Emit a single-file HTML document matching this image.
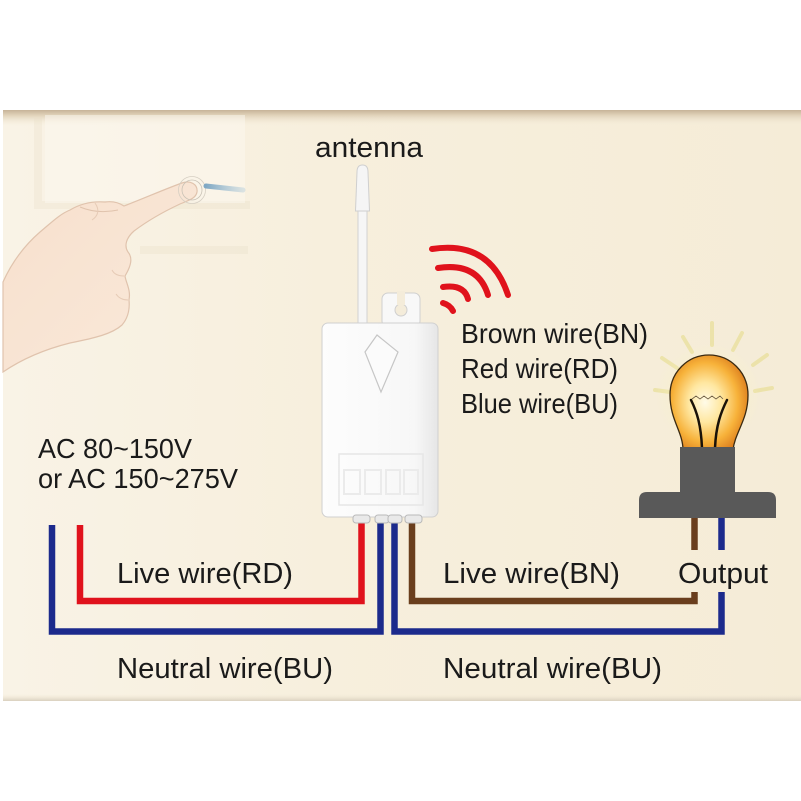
<!DOCTYPE html>
<html><head><meta charset="utf-8"><style>
html,body{margin:0;padding:0;background:#fff;}
svg{display:block;}
text{font-family:"Liberation Sans",Arial,sans-serif;fill:#1a1a1a;}
</style></head><body>
<svg width="801" height="801" viewBox="0 0 801 801" xmlns="http://www.w3.org/2000/svg">
<defs>
<linearGradient id="bg" x1="0" y1="0" x2="1" y2="0">
<stop offset="0" stop-color="#f9f3e6"/><stop offset="0.4" stop-color="#f7efdd"/><stop offset="1" stop-color="#f5ecd7"/>
</linearGradient>
<linearGradient id="topsh" x1="0" y1="0" x2="0" y2="1">
<stop offset="0" stop-color="#c6b398"/><stop offset="0.35" stop-color="#e2d4bc"/><stop offset="1" stop-color="#f6eedb" stop-opacity="0"/>
</linearGradient>
<linearGradient id="botsh" x1="0" y1="0" x2="0" y2="1">
<stop offset="0" stop-color="#f3ead5" stop-opacity="0"/><stop offset="1" stop-color="#d9d0bf"/>
</linearGradient>
<radialGradient id="bulb" cx="0.45" cy="0.5" r="0.6">
<stop offset="0" stop-color="#fffbe8"/><stop offset="0.35" stop-color="#ffe7a0"/><stop offset="0.7" stop-color="#f7b23a"/><stop offset="1" stop-color="#d9771a"/>
</radialGradient>
<radialGradient id="glow" cx="0.5" cy="0.5" r="0.5">
<stop offset="0" stop-color="#fff6c0" stop-opacity="0.8"/><stop offset="1" stop-color="#fff6c0" stop-opacity="0"/>
</radialGradient>
<linearGradient id="box" x1="0" y1="0" x2="1" y2="0">
<stop offset="0" stop-color="#fdfdfd"/><stop offset="0.8" stop-color="#f7f7f7"/><stop offset="1" stop-color="#e6e6e6"/>
</linearGradient>
<linearGradient id="hand" x1="0" y1="0" x2="1" y2="1">
<stop offset="0" stop-color="#f7e0cd"/><stop offset="1" stop-color="#fae9da"/>
</linearGradient>
<linearGradient id="streak" x1="0" y1="0" x2="1" y2="0">
<stop offset="0" stop-color="#7fa8c4"/><stop offset="1" stop-color="#a9c6d8" stop-opacity="0.4"/>
</linearGradient>
</defs>

<!-- panel -->
<rect x="3" y="110" width="798" height="591" fill="url(#bg)"/>
<rect x="3" y="110" width="798" height="16" fill="url(#topsh)"/>
<rect x="3" y="694" width="798" height="7" fill="url(#botsh)"/>

<!-- faint wall switch frame -->
<g opacity="0.3" fill="none" stroke="#e8dec6" stroke-width="8">
<path d="M38,118 V205 H250"/>
<path d="M140,250 H248"/>
</g>
<rect x="45" y="115" width="200" height="88" fill="#fbf8f0" opacity="0.5"/>

<!-- hand -->
<path d="M3,282 C12,262 25,245 40,232 C52,222 60,214 70,210 C80,204 92,201 105,202 C112,201 118,202 124,206 C145,198 165,189 182,183 C190,180 198,184 197,192 C196,198 190,200 180,204 C165,211 150,219 134,231 C126,238 124,246 128,252 C133,258 131,266 125,276 C126,283 131,290 129,300 C130,310 128,318 122,325 C112,334 95,338 70,343 C50,348 25,357 3,372 Z" fill="url(#hand)" stroke="#e0c3ad" stroke-width="1.2"/>
<path d="M80,207 C92,212 104,213 118,210" fill="none" stroke="#e0c3ad" stroke-width="1"/>
<path d="M95,203 C100,210 98,216 92,220" fill="none" stroke="#e6cbb6" stroke-width="1"/>
<path d="M124,276 C118,276 114,274 112,270" fill="none" stroke="#e6cbb6" stroke-width="1"/>
<path d="M128,300 C122,300 118,297 116,294" fill="none" stroke="#e6cbb6" stroke-width="1"/>
<!-- ripple -->
<circle cx="192" cy="190" r="10" fill="none" stroke="#c9c2b6" stroke-width="0.8"/>
<circle cx="192" cy="190" r="13.5" fill="none" stroke="#d6cfc3" stroke-width="0.8"/>
<path d="M206,186 L243,190" stroke="url(#streak)" stroke-width="5" stroke-linecap="round"/>

<!-- antenna -->
<rect x="358" y="208" width="9" height="117" fill="#f6f6f6" stroke="#d2d2d2" stroke-width="1"/>
<path d="M357,172 Q357,165 362.5,165 Q368,165 368,172 L369.5,211 L355.5,211 Z" fill="#f5f5f5" stroke="#cfcfcf" stroke-width="1"/>

<!-- clip -->
<rect x="382" y="293" width="38" height="34" rx="6" fill="#f8f8f8" stroke="#cfcfcf" stroke-width="1"/>
<circle cx="401" cy="310" r="6" fill="#f4ecda" stroke="#cfcfcf" stroke-width="1"/>
<rect x="397" y="291" width="8" height="14" fill="#f4ecda"/>

<!-- box -->
<rect x="322" y="323" width="116" height="194" rx="6" fill="url(#box)" stroke="#d0d0d0" stroke-width="1"/>
<polygon points="377,335 398,352 381,392 365,352" fill="#fbfbfb" stroke="#c6c6c6" stroke-width="1.2"/>
<rect x="339" y="454" width="84" height="51" fill="none" stroke="#e6e6e6" stroke-width="1.5"/>
<g fill="none" stroke="#ebebeb" stroke-width="2">
<rect x="344" y="470" width="16" height="24"/><rect x="365" y="470" width="16" height="24"/><rect x="386" y="470" width="14" height="24"/><rect x="404" y="470" width="14" height="24"/>
</g>

<!-- wires -->
<g fill="none" stroke-width="6.5" stroke-linejoin="miter">
<path d="M52,525 V631.5 H380.5 V519" stroke="#1c2a8c"/>
<path d="M80,525 V601 H361.5 V519" stroke="#e0121c"/>
<path d="M394.5,519 V631.5 H721.5 V592" stroke="#1c2a8c"/>
<path d="M721.5,515 V550" stroke="#1c2a8c"/>
<path d="M412,519 V601 H694.5 V592" stroke="#6a3e1d"/>
<path d="M694.5,515 V550" stroke="#6a3e1d"/>
</g>
<!-- nubs -->
<g fill="#e9e9e9" stroke="#b9b9b9" stroke-width="1">
<rect x="353" y="515" width="17" height="8" rx="3"/>
<rect x="375" y="515" width="14" height="8" rx="3"/>
<rect x="388" y="515" width="14" height="8" rx="3"/>
<rect x="405" y="515" width="17" height="8" rx="3"/>
</g>

<!-- wifi -->
<g fill="none" stroke="#e0121c" stroke-width="6" stroke-linecap="round">
<path d="M432,249 Q490,240 508,295"/>
<path d="M438,268 Q478,262 488,295"/>
<path d="M443,287 Q464,284 468,299"/>
<path d="M443,303 Q450,305 453,311"/>
</g>

<!-- bulb rays -->
<g stroke="#ece2a6" stroke-width="4" stroke-linecap="round" opacity="0.9">
<path d="M712,323 V345"/>
<path d="M683,337 L692,352"/>
<path d="M662,358 L677,368"/>
<path d="M655,390 L670,392"/>
<path d="M742,333 L733,350"/>
<path d="M767,355 L753,365"/>
<path d="M772,388 L755,391"/>
</g>
<circle cx="708" cy="395" r="52" fill="url(#glow)"/>
<!-- bulb glass -->
<path d="M683,450 C683,432 670,420 670,395 C670,372 688,355 709,355 C730,355 748,372 748,395 C748,420 735,432 733,450 Z" fill="url(#bulb)" stroke="#3a2a12" stroke-width="1.3"/>
<g fill="none" stroke="#1a1208" stroke-width="2.5" stroke-linecap="round">
<path d="M691,400 C697,412 701,425 702,448"/>
<path d="M727,400 C721,412 716,425 715,448"/>
</g>
<path d="M692,399 l4,-3 l4,3 l4,-3 l4,3 l4,-3 l4,3 l4,-3 l3,3" fill="none" stroke="#6b5a40" stroke-width="0.8"/>
<!-- socket -->
<rect x="680" y="447" width="55" height="46" fill="#595959"/>
<path d="M639,518 V500 Q639,492 647,492 H768 Q776,492 776,500 V518 Z" fill="#595959"/>

<!-- labels -->
<text x="315" y="157" font-size="29" textLength="108" lengthAdjust="spacingAndGlyphs">antenna</text>
<text x="461" y="343" font-size="28" textLength="187" lengthAdjust="spacingAndGlyphs">Brown wire(BN)</text>
<text x="461" y="378" font-size="28" textLength="157" lengthAdjust="spacingAndGlyphs">Red wire(RD)</text>
<text x="461" y="413" font-size="28" textLength="157" lengthAdjust="spacingAndGlyphs">Blue wire(BU)</text>
<text x="38" y="458" font-size="28" textLength="154" lengthAdjust="spacingAndGlyphs">AC 80~150V</text>
<text x="38" y="488" font-size="28" textLength="200" lengthAdjust="spacingAndGlyphs">or AC 150~275V</text>
<text x="117" y="583" font-size="29" textLength="176" lengthAdjust="spacingAndGlyphs">Live wire(RD)</text>
<text x="117" y="678" font-size="29" textLength="216" lengthAdjust="spacingAndGlyphs">Neutral wire(BU)</text>
<text x="443" y="583" font-size="29" textLength="177" lengthAdjust="spacingAndGlyphs">Live wire(BN)</text>
<text x="678" y="583" font-size="29" textLength="90" lengthAdjust="spacingAndGlyphs">Output</text>
<text x="443" y="678" font-size="29" textLength="219" lengthAdjust="spacingAndGlyphs">Neutral wire(BU)</text>
</svg>
</body></html>
